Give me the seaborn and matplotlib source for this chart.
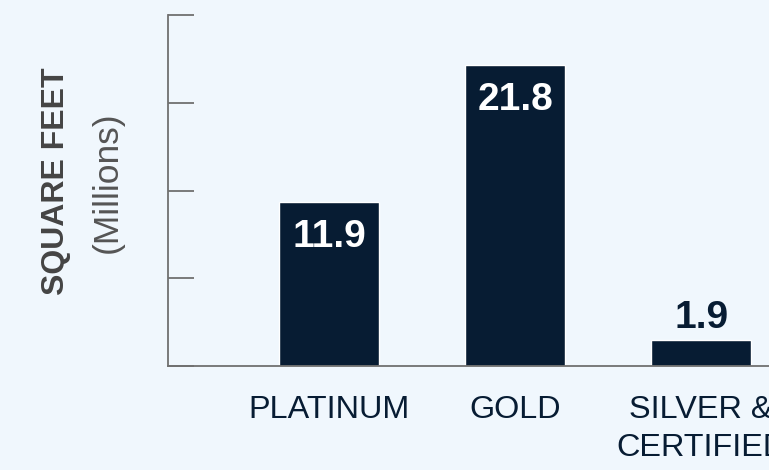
import matplotlib.pyplot as plt
import numpy as np
import seaborn as sns

categories = ["PLATINUM", "GOLD", "SILVER &\nCERTIFIED"]
square_feet = [11.9, 21.8, 1.9]
value_labels = ["11.9", "21.8", "1.9"]
y_max = 25.4

BG = "#f0f7fd"
NAVY = "#071c33"
AXIS_GRAY = "#707070"


def main():
    sns.set_theme(style="white", rc={"axes.facecolor": BG,
                                     "figure.facecolor": BG})
    plt.rcParams["font.family"] = ["Liberation Sans", "DejaVu Sans"]

    fig = plt.figure(figsize=(7.69, 4.70), dpi=100)
    ax = fig.add_axes([0.2185, 0.2213, 0.8384, 0.7461])

    sns.barplot(x=categories, y=square_feet, color=NAVY, saturation=1,
                width=0.538, ax=ax)

    ax.set_xlim(-0.866, 2.6)
    ax.set_ylim(0, y_max)
    ax.set_yticks(np.linspace(0, y_max, 5))
    ax.set_yticklabels([])
    ax.tick_params(axis="y", direction="in", length=18.7, width=1.3,
                   color=AXIS_GRAY, left=True)
    ax.tick_params(axis="x", length=0, pad=21, labelsize=23.3,
                   labelcolor=NAVY)
    for lbl in ax.get_xticklabels():
        lbl.set_linespacing(1.35)

    for side in ["top", "right"]:
        ax.spines[side].set_visible(False)
    for side in ["left", "bottom"]:
        ax.spines[side].set_color(AXIS_GRAY)
        ax.spines[side].set_linewidth(1.3)

    # labels inside tall bars, above the short one
    for i, (val, txt) in enumerate(zip(square_feet, value_labels)):
        if val > 5:
            ax.annotate(txt, (i, val), xytext=(0, -32.4),
                        textcoords="offset points", ha="center",
                        va="baseline", fontsize=28, fontweight="bold",
                        color="white")
        else:
            ax.annotate(txt, (i, val), xytext=(0, 8.6),
                        textcoords="offset points", ha="center",
                        va="baseline", fontsize=28, fontweight="bold",
                        color=NAVY)

    ax.set_xlabel("")
    ax.set_ylabel("")
    fig.text(56 / 769, 1 - 181 / 470, "SQUARE FEET", rotation=90,
             ha="center", va="center", fontsize=23, fontweight="bold",
             color="#444444")
    fig.text(107 / 769, 1 - 182 / 470, "(Millions)", rotation=90,
             ha="center", va="center", fontsize=25.5, color="#555555")

    plt.savefig("out.png", dpi=100, facecolor=BG)
    plt.close()


if __name__ == '__main__':
    main()
